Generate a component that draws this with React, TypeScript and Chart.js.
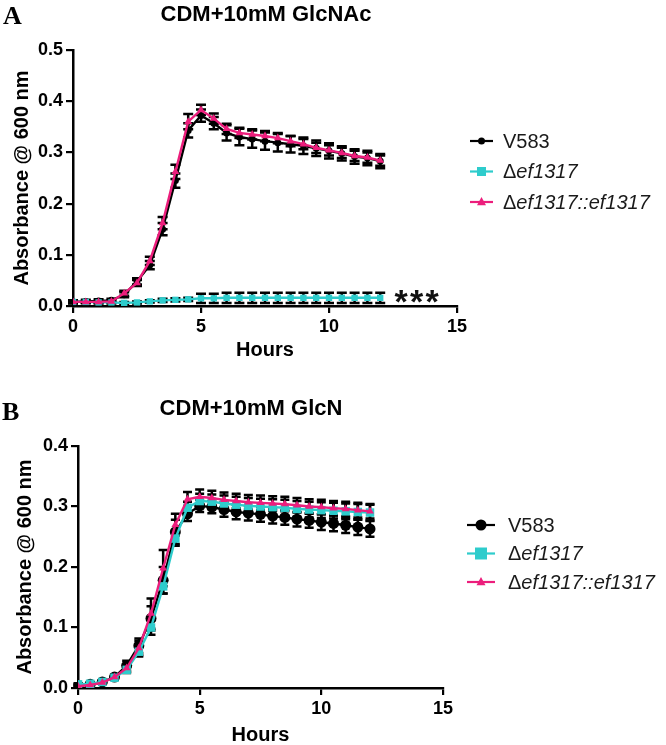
import React, { useEffect, useRef } from "react";
import { Chart, registerables } from "chart.js";
Chart.register(...registerables);

const HOURS = [0, 0.5, 1, 1.5, 2, 2.5, 3, 3.5, 4, 4.5, 5, 5.5, 6, 6.5, 7, 7.5, 8, 8.5, 9, 9.5, 10, 10.5, 11, 11.5, 12];
const SERIES_NAMES = ["V583", "Δef1317", "Δef1317::ef1317"];
const X_TICKS = [0, 5, 10, 15];

// Panel A: CDM + 10mM GlcNAc
const A_V583 = [0.008, 0.009, 0.010, 0.011, 0.022, 0.048, 0.080, 0.150, 0.245, 0.343, 0.372, 0.357, 0.338, 0.330, 0.326, 0.322, 0.319, 0.316, 0.313, 0.308, 0.303, 0.298, 0.292, 0.289, 0.283];
const A_V583_ERR = [0.003, 0.003, 0.003, 0.003, 0.005, 0.006, 0.008, 0.012, 0.014, 0.014, 0.012, 0.012, 0.015, 0.016, 0.017, 0.017, 0.017, 0.016, 0.016, 0.015, 0.015, 0.014, 0.014, 0.014, 0.014];
const A_DEL = [0.008, 0.008, 0.007, 0.007, 0.006, 0.007, 0.009, 0.011, 0.012, 0.013, 0.015, 0.015, 0.016, 0.016, 0.016, 0.016, 0.016, 0.016, 0.016, 0.016, 0.016, 0.016, 0.016, 0.016, 0.016];
const A_DEL_ERR = [0.002, 0.002, 0.002, 0.002, 0.002, 0.002, 0.002, 0.003, 0.003, 0.003, 0.009, 0.009, 0.010, 0.010, 0.010, 0.010, 0.010, 0.010, 0.010, 0.010, 0.010, 0.010, 0.010, 0.010, 0.010];
const A_COMP = [0.008, 0.008, 0.008, 0.009, 0.025, 0.045, 0.088, 0.162, 0.262, 0.360, 0.383, 0.366, 0.346, 0.338, 0.335, 0.332, 0.328, 0.322, 0.316, 0.309, 0.304, 0.299, 0.293, 0.290, 0.284];
const A_COMP_ERR = [0.002, 0.002, 0.002, 0.002, 0.005, 0.006, 0.008, 0.012, 0.014, 0.015, 0.010, 0.010, 0.010, 0.010, 0.010, 0.010, 0.010, 0.010, 0.010, 0.010, 0.010, 0.010, 0.010, 0.010, 0.010];

// Panel B: CDM + 10mM GlcN
const B_V583 = [0.004, 0.006, 0.010, 0.018, 0.037, 0.070, 0.115, 0.178, 0.258, 0.288, 0.301, 0.299, 0.295, 0.291, 0.289, 0.287, 0.284, 0.282, 0.279, 0.277, 0.274, 0.272, 0.269, 0.266, 0.263];
const B_V583_ERR = [0.002, 0.002, 0.003, 0.004, 0.008, 0.012, 0.020, 0.022, 0.020, 0.012, 0.010, 0.010, 0.012, 0.012, 0.012, 0.012, 0.012, 0.012, 0.012, 0.012, 0.013, 0.013, 0.013, 0.013, 0.013];
const B_DEL = [0.006, 0.007, 0.010, 0.017, 0.030, 0.060, 0.100, 0.168, 0.247, 0.298, 0.309, 0.308, 0.305, 0.303, 0.301, 0.300, 0.299, 0.298, 0.296, 0.295, 0.294, 0.293, 0.292, 0.291, 0.290];
const B_DEL_ERR = [0.002, 0.002, 0.002, 0.003, 0.005, 0.008, 0.012, 0.012, 0.012, 0.010, 0.012, 0.012, 0.013, 0.013, 0.013, 0.013, 0.013, 0.013, 0.013, 0.013, 0.013, 0.013, 0.013, 0.013, 0.013];
const B_COMP = [0.003, 0.005, 0.009, 0.018, 0.033, 0.066, 0.123, 0.198, 0.270, 0.312, 0.316, 0.314, 0.311, 0.309, 0.307, 0.306, 0.305, 0.304, 0.302, 0.300, 0.299, 0.297, 0.296, 0.294, 0.292];
const B_COMP_ERR = [0.002, 0.002, 0.002, 0.003, 0.006, 0.012, 0.025, 0.030, 0.018, 0.012, 0.012, 0.012, 0.012, 0.012, 0.012, 0.012, 0.012, 0.012, 0.012, 0.012, 0.012, 0.012, 0.012, 0.012, 0.012];

const BLACK = "#000000";
const CYAN = "#2ECCCC";
const PINK = "#EC1E7C";
const SANS = "'Liberation Sans', Arial, sans-serif";

const errorBarPlugin = {
  id: "errbars",
  beforeDatasetsDraw(chart: any) {
    const ctx = chart.ctx;
    const xs = chart.scales.x;
    const ys = chart.scales.y;
    chart.data.datasets.forEach((ds: any) => {
      if (!ds.errors) return;
      ctx.save();
      ctx.strokeStyle = "#000";
      ctx.lineWidth = 2.5;
      ds.data.forEach((p: any, j: number) => {
        const e = ds.errors[j];
        const x = xs.getPixelForValue(p.x);
        const yt = ys.getPixelForValue(p.y + e);
        const yb = ys.getPixelForValue(p.y - e);
        const cw = ds.capHalf;
        ctx.beginPath();
        ctx.moveTo(x, yt);
        ctx.lineTo(x, yb);
        ctx.moveTo(x - cw, yt);
        ctx.lineTo(x + cw, yt);
        ctx.moveTo(x - cw, yb);
        ctx.lineTo(x + cw, yb);
        ctx.stroke();
      });
      ctx.restore();
    });
  },
};

function drawMarker(ctx: CanvasRenderingContext2D, style: string, x: number, y: number, r: number, color: string) {
  ctx.fillStyle = color;
  ctx.beginPath();
  if (style === "circle") {
    ctx.arc(x, y, r, 0, Math.PI * 2);
  } else if (style === "rect") {
    ctx.rect(x - r, y - r, 2 * r, 2 * r);
  } else {
    ctx.moveTo(x, y - r * 1.1);
    ctx.lineTo(x + r, y + r * 0.7);
    ctx.lineTo(x - r, y + r * 0.7);
    ctx.closePath();
  }
  ctx.fill();
}

const decorPlugin = {
  id: "decor",
  afterDraw(chart: any, _args: any, opts: any) {
    const ctx = chart.ctx;
    ctx.save();
    ctx.fillStyle = "#000";
    ctx.textBaseline = "alphabetic";
    ctx.textAlign = "left";
    ctx.font = "bold 26px 'Liberation Serif', 'Times New Roman', serif";
    ctx.fillText(opts.letter, opts.letterX, opts.letterY);
    ctx.font = `bold 22px ${SANS}`;
    ctx.textAlign = "center";
    ctx.fillText(opts.title, opts.titleX, opts.titleY);
    const ds = chart.data.datasets;
    [0, 1, 2].forEach((k, row) => {
      const d = ds.find((q: any) => q.legendIndex === k);
      const y = opts.legendY + row * opts.legendGap;
      ctx.strokeStyle = d.borderColor;
      ctx.lineWidth = 2.2;
      ctx.beginPath();
      ctx.moveTo(opts.legendX, y);
      ctx.lineTo(opts.legendX + opts.legendLine, y);
      ctx.stroke();
      drawMarker(ctx, d.pointStyle, opts.legendX + opts.legendLine / 2, y, d.legendR, d.borderColor);
      ctx.textAlign = "left";
      ctx.textBaseline = "middle";
      ctx.fillStyle = "#1a1a1a";
      let tx = opts.legendX + opts.legendLine + opts.legendTextGap;
      const label: string = d.label;
      if (label.startsWith("Δ")) {
        ctx.font = `20px ${SANS}`;
        ctx.fillText("Δ", tx, y + 1);
        tx += ctx.measureText("Δ").width;
        ctx.font = `italic 20px ${SANS}`;
        ctx.fillText(label.slice(1), tx, y + 1);
      } else {
        ctx.font = `20px ${SANS}`;
        ctx.fillText(label, tx, y + 1);
      }
    });
    if (opts.stars) {
      const xs = chart.scales.x;
      const ys = chart.scales.y;
      const x0 = xs.getPixelForValue(HOURS[HOURS.length - 1]) + 21;
      const y0 = ys.getPixelForValue(opts.starsAt) + 6;
      ctx.font = `bold 34px ${SANS}`;
      ctx.fillStyle = "#111";
      ctx.textBaseline = "middle";
      ctx.textAlign = "center";
      for (let i = 0; i < 3; i++) ctx.fillText("*", x0 + i * 15.5, y0);
    }
    ctx.restore();
  },
};

type PanelProps = {
  width: number;
  height: number;
  top: number;
  v583: number[];
  v583Err: number[];
  del: number[];
  delErr: number[];
  comp: number[];
  compErr: number[];
  yMax: number;
  plotLeft: number;
  plotRight: number;
  plotTop: number;
  plotBottom: number;
  yTitlePad: number;
  xTitlePad: number;
  markers: { circle: number; rect: number; tri: number; cap: number };
  legendR: { circle: number; rect: number; tri: number };
  decor: any;
};

function Panel(p: PanelProps) {
  const ref = useRef<HTMLCanvasElement | null>(null);
  useEffect(() => {
    if (!ref.current) return;
    const pts = (arr: number[]) => arr.map((v, i) => ({ x: HOURS[i], y: v }));
    const chart = new Chart(ref.current, {
      type: "line",
      data: {
        datasets: [
          {
            label: SERIES_NAMES[2],
            data: pts(p.comp),
            errors: p.compErr,
            capHalf: p.markers.cap,
            borderColor: PINK,
            backgroundColor: PINK,
            pointStyle: "triangle",
            pointRadius: p.markers.tri,
            pointBorderWidth: 0,
            borderWidth: 2.4,
            order: 0,
            legendIndex: 2,
            legendR: p.legendR.tri,
          } as any,
          {
            label: SERIES_NAMES[1],
            data: pts(p.del),
            errors: p.delErr,
            capHalf: p.markers.cap,
            borderColor: CYAN,
            backgroundColor: CYAN,
            pointStyle: "rect",
            pointRadius: p.markers.rect,
            pointBorderWidth: 0,
            borderWidth: 2.4,
            order: 1,
            legendIndex: 1,
            legendR: p.legendR.rect,
          } as any,
          {
            label: SERIES_NAMES[0],
            data: pts(p.v583),
            errors: p.v583Err,
            capHalf: p.markers.cap,
            borderColor: BLACK,
            backgroundColor: BLACK,
            pointStyle: "circle",
            pointRadius: p.markers.circle,
            pointBorderWidth: 0,
            borderWidth: 2.4,
            order: 2,
            legendIndex: 0,
            legendR: p.legendR.circle,
          } as any,
        ],
      },
      options: {
        animation: false,
        responsive: false,
        devicePixelRatio: 1,
        layout: {
          padding: { left: 0, top: p.plotTop, right: p.width - p.plotRight, bottom: 0 },
        },
        plugins: {
          legend: { display: false },
          title: { display: false },
          tooltip: { enabled: false },
          decor: p.decor,
        } as any,
        scales: {
          x: {
            type: "linear",
            min: 0,
            max: 15,
            afterFit: (s: any) => {
              s.height = p.height - p.plotBottom;
            },
            afterBuildTicks: (s: any) => {
              s.ticks = X_TICKS.map((v) => ({ value: v }));
            },
            ticks: {
              color: "#000",
              font: { family: SANS, size: 18, weight: "bold" },
              padding: 3,
              maxRotation: 0,
            },
            grid: { drawOnChartArea: false, drawTicks: true, tickLength: 7, color: "#000", lineWidth: 2.2 },
            border: { display: true, color: "#000", width: 2.5 },
            title: {
              display: true,
              text: "Hours",
              color: "#000",
              font: { family: SANS, size: 20, weight: "bold", lineHeight: 1 },
              padding: { top: 0, bottom: p.xTitlePad },
            },
          },
          y: {
            type: "linear",
            min: 0,
            max: p.yMax,
            afterFit: (s: any) => {
              s.width = p.plotLeft;
            },
            ticks: {
              stepSize: 0.1,
              color: "#000",
              font: { family: SANS, size: 18, weight: "bold" },
              padding: 3,
              callback: (v: any) => Number(v).toFixed(1),
            },
            grid: { drawOnChartArea: false, drawTicks: true, tickLength: 7, color: "#000", lineWidth: 2.2 },
            border: { display: true, color: "#000", width: 2.5 },
            title: {
              display: true,
              text: "Absorbance @ 600 nm",
              color: "#000",
              font: { family: SANS, size: 20, weight: "bold", lineHeight: 1 },
              padding: { top: p.yTitlePad, bottom: 0 },
            },
          },
        },
      } as any,
      plugins: [errorBarPlugin, decorPlugin],
    });
    return () => chart.destroy();
  }, []);
  return (
    <canvas
      ref={ref}
      width={p.width}
      height={p.height}
      style={{ position: "absolute", left: 0, top: p.top, width: p.width, height: p.height }}
    />
  );
}

export default function App() {
  return (
    <div style={{ position: "absolute", left: 0, top: 0, width: 666, height: 745, background: "#fff", overflow: "hidden" }}>
      <Panel
        width={666}
        height={370}
        top={0}
        v583={A_V583}
        v583Err={A_V583_ERR}
        del={A_DEL}
        delErr={A_DEL_ERR}
        comp={A_COMP}
        compErr={A_COMP_ERR}
        yMax={0.5}
        plotLeft={73}
        plotRight={457}
        plotTop={50}
        plotBottom={306}
        yTitlePad={12}
        xTitlePad={10}
        markers={{ circle: 3.5, rect: 4.5, tri: 4.5, cap: 5 }}
        legendR={{ circle: 3.5, rect: 4.5, tri: 4.5 }}
        decor={{
          letter: "A",
          letterX: 3,
          letterY: 24,
          title: "CDM+10mM GlcNAc",
          titleX: 266,
          titleY: 21,
          legendX: 470,
          legendY: 141,
          legendGap: 30.5,
          legendLine: 23,
          legendTextGap: 10,
          stars: true,
          starsAt: 0.016,
        }}
      />
      <Panel
        width={666}
        height={375}
        top={370}
        v583={B_V583}
        v583Err={B_V583_ERR}
        del={B_DEL}
        delErr={B_DEL_ERR}
        comp={B_COMP}
        compErr={B_COMP_ERR}
        yMax={0.4}
        plotLeft={78}
        plotRight={443}
        plotTop={76}
        plotBottom={318}
        yTitlePad={15}
        xTitlePad={0}
        markers={{ circle: 5.5, rect: 6, tri: 4.5, cap: 4.5 }}
        legendR={{ circle: 5.5, rect: 6, tri: 4.5 }}
        decor={{
          letter: "B",
          letterX: 2,
          letterY: 50,
          title: "CDM+10mM GlcN",
          titleX: 251,
          titleY: 45,
          legendX: 467,
          legendY: 155,
          legendGap: 28.5,
          legendLine: 28,
          legendTextGap: 13,
          stars: false,
          starsAt: 0,
        }}
      />
    </div>
  );
}
